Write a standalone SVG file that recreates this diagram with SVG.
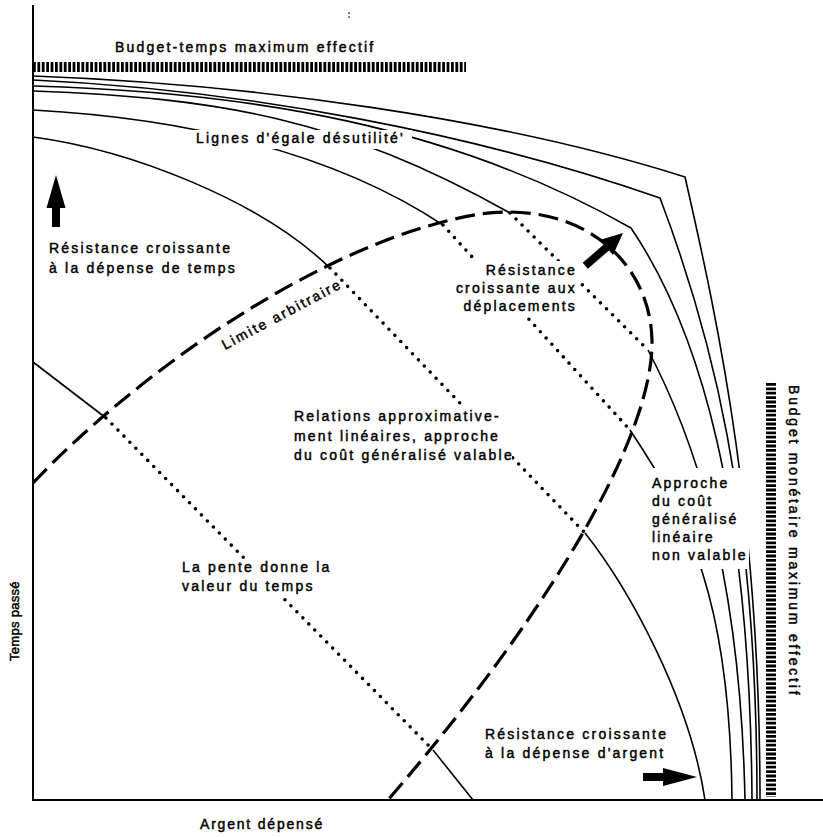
<svg xmlns="http://www.w3.org/2000/svg" width="823" height="837" viewBox="0 0 823 837">
<style>
.ln{fill:none;stroke:#000;stroke-width:1.6}
.ax{fill:none;stroke:#000;stroke-width:2}
.dash{fill:none;stroke:#000;stroke-width:3.2;stroke-dasharray:20 8}
.dot{fill:none;stroke:#000;stroke-width:3.6;stroke-linecap:round;stroke-dasharray:0 8.5}
.hatch{fill:none;stroke:#000;stroke-width:10;stroke-dasharray:2.8 1.6}
.t{font-family:"Liberation Sans",Arial,Helvetica,sans-serif;font-size:14px;letter-spacing:2.2px;fill:#000;stroke:#000;stroke-width:0.45px}
.bg{fill:#fff}
.arr{fill:#000}
</style>
<rect width="823" height="837" fill="#fff"/>
<g id="axes">
<line class="ax" x1="33" y1="5" x2="33" y2="801"/>
<line class="ax" x1="32" y1="800" x2="823" y2="800"/>
<line x1="349" y1="12" x2="349" y2="19" stroke="#000" stroke-width="1" stroke-dasharray="2 2"/>
</g>
<g id="budget-bars">
<line class="hatch" x1="33" y1="67" x2="466" y2="67"/>
<line class="hatch" x1="771" y1="383" x2="771" y2="797"/>
</g>
<g id="connectors">
<path id="curve-A" class="ln" d="M33,76 C250,84 500,118 685,177 C720,330 760,520 760,800"/>
<path id="curve-B" class="ln" d="M33,80 C250,90 480,135 660,198 C710,330 757,500 757,800"/>
<path id="curve-C" class="ln" d="M33,86 C250,92 450,125 631,228 C700,330 750,500 752,800"/>
<path id="curve-D" class="ln" d="M33,91 C220,98 340,118 510,213"/>
<path class="dot" d="M510,213 L648,350"/>
<path class="ln" d="M648,350 C690,430 740,560 745,800"/>
<path id="curve-X" class="ln" d="M33,110 C180,118 330,150 443,225"/>
<path class="dot" d="M443,225 L630,430"/>
<path class="ln" d="M630,430 C690,520 730,600 732,800"/>
<path id="curve-2" class="ln" d="M33,137 C130,150 260,200 330,268"/>
<path class="dot" d="M330,268 L585,533"/>
<path class="ln" d="M585,533 C630,590 690,700 705,800"/>
<path id="curve-I" class="ln" d="M33,362 L106,418"/>
<path class="dot" d="M106,418 L433,750"/>
<path class="ln" d="M433,750 L473,800"/>
<path id="limite" class="dash" d="M33,483 C130,380 320,240 480,214 C580,200 650,260 652,340 C654,430 560,600 388,800"/>
</g>
<g id="arrows">
<polygon class="arr" points="56,175 65.5,208 60,208 60,227 52,227 52,208 46.5,208"/>
<polygon class="arr" points="623,233 613,255 609,250.4 587.9,268.8 582.7,262.8 603.8,244.4 599.8,239.9"/>
<polygon class="arr" points="697,777 663,786 663,781 643,781 643,773 663,773 663,768"/>
</g>
<g id="label-budget-temps"><text class="t" x="115" y="52">Budget-temps maximum effectif</text></g>
<g id="label-lignes"><rect class="bg" x="192" y="130" width="220" height="19"/><text class="t" x="196" y="143">Lignes d'égale désutilité'</text></g>
<g id="label-temps"><text class="t" x="49" y="253">Résistance croissante</text><text class="t" x="49" y="273">à la dépense de temps</text></g>
<g id="label-limite"><text class="t" transform="translate(225,350) rotate(-28)">Limite arbitraire</text></g>
<g id="label-deplacements"><rect class="bg" x="452" y="261" width="126" height="55"/>
<text class="t" text-anchor="end" x="577" y="275">Résistance</text><text class="t" text-anchor="end" x="577" y="293">croissante aux</text><text class="t" text-anchor="end" x="577" y="311">déplacements</text></g>
<g id="label-relations"><rect class="bg" x="290" y="407" width="222" height="58"/>
<text class="t" x="294" y="421">Relations approximative-</text><text class="t" x="294" y="441">ment linéaires, approche</text><text class="t" x="294" y="460">du coût généralisé valable</text></g>
<g id="label-pente"><rect class="bg" x="178" y="560" width="154" height="36"/>
<text class="t" x="182" y="572">La pente donne la</text><text class="t" x="182" y="591">valeur du temps</text></g>
<g id="label-approche"><rect class="bg" x="648" y="468" width="101" height="101"/>
<text class="t" x="652" y="488">Approche</text><text class="t" x="652" y="506">du coût</text><text class="t" x="652" y="524">généralisé</text><text class="t" x="652" y="542">linéaire</text><text class="t" x="652" y="560">non valable</text></g>
<g id="label-argent"><text class="t" x="485" y="739">Résistance croissante</text><text class="t" x="485" y="758">à la dépense d'argent</text></g>
<g id="label-axes">
<text class="t" style="font-size:13px;letter-spacing:0.3px" transform="translate(19,661) rotate(-90)">Temps passé</text>
<text class="t" style="letter-spacing:1.8px" x="200" y="829">Argent dépensé</text>
<text class="t" style="letter-spacing:2.8px" transform="translate(789,385) rotate(90)">Budget monétaire maximum effectif</text>
</g>
</svg>
